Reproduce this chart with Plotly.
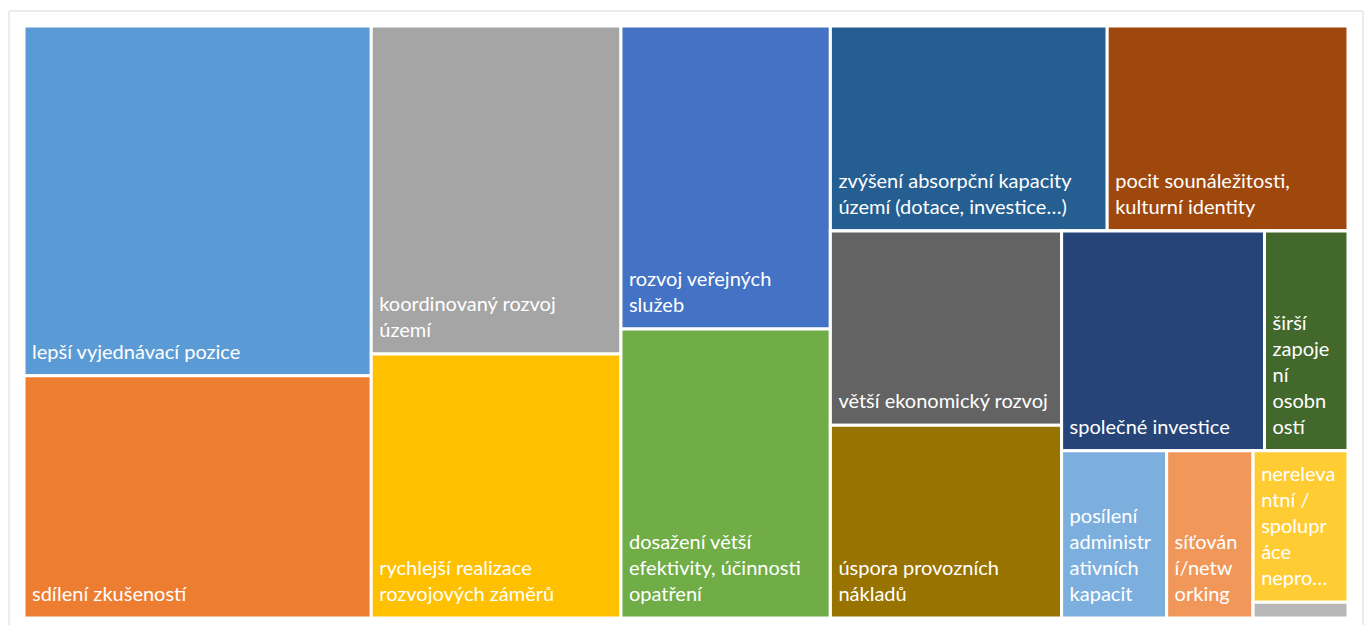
import plotly.graph_objects as go

# Benefit categories with their weights (leaf tiles)
labels = [
    "lepší vyjednávací pozice",
    "sdílení zkušeností",
    "koordinovaný rozvoj území",
    "rychlejší realizace rozvojových záměrů",
    "rozvoj veřejných služeb",
    "dosažení větší efektivity, účinnosti opatření",
    "zvýšení absorpční kapacity území (dotace, investice…)",
    "pocit sounáležitosti, kulturní identity",
    "větší ekonomický rozvoj",
    "úspora provozních nákladů",
    "společné investice",
    "širší zapojení osobností",
    "posílení administrativních kapacit",
    "síťování/networking",
    "nerelevantní / spolupráce nepro…",
    "jiné",
]
values = [121.8, 84.3, 82.1, 66.1, 63.6, 60.7, 56.9, 49.5, 45.0, 44.7, 44.7,
          18.4, 17.6, 14.5, 14.4, 1.5]

# Labels as they wrap inside their tiles
tile_lines = [
    ["lepší vyjednávací pozice"],
    ["sdílení zkušeností"],
    ["koordinovaný rozvoj", "území"],
    ["rychlejší realizace", "rozvojových záměrů"],
    ["rozvoj veřejných", "služeb"],
    ["dosažení větší", "efektivity, účinnosti", "opatření"],
    ["zvýšení absorpční kapacity", "území (dotace, investice…)"],
    ["pocit sounáležitosti,", "kulturní identity"],
    ["větší ekonomický rozvoj"],
    ["úspora provozních", "nákladů"],
    ["společné investice"],
    ["širší", "zapoje", "ní", "osobn", "ostí"],
    ["posílení", "administr", "ativních", "kapacit"],
    ["síťován", "í/netw", "orking"],
    ["nereleva", "ntní /", "spolupr", "áce", "nepro…"],
    [],
]

colors = [
    "#5B9BD5", "#ED7D31", "#A5A5A5", "#FFC000", "#4472C4", "#70AD47",
    "#255E91", "#9E480E", "#636363", "#997300", "#264478", "#43682B",
    "#7CAFDD", "#F1975A", "#FFCD33", "#B7B7B7",
]

# Nesting of the tiles: groups alternate between side-by-side and stacked
# arrangement (slice-dice packing). Each entry: (group id, parent id, members)
# where members are group ids or leaf indices, in drawing order.
groups = [
    ("root", "", ["A", "B", "C", "D"]),
    ("A", "root", [0, 1]),
    ("B", "root", [2, 3]),
    ("C", "root", [4, 5]),
    ("D", "root", ["D1", "D2"]),
    ("D1", "D", [6, 7]),
    ("D2", "D", ["D2a", "D3"]),
    ("D2a", "D2", [8, 9]),
    ("D3", "D2", ["D3a", "D4"]),
    ("D3a", "D3", [10, 11]),
    ("D4", "D3", [12, 13, "D4c"]),
    ("D4c", "D4", [14, 15]),
]

# Base font is half the label size, so two line breaks give a 26 px line
# pitch; a final short line lifts the label off the tile's bottom edge.
BASE_SIZE = 10
LABEL_SIZE = 20
PAD_LEFT = "\u2009\u2009"
BOTTOM_GAP = '<br><span style="font-size:4px">\u00a0</span>'


def tile_text(lines):
    if not lines:
        return ""
    spans = [f'<span style="font-size:{LABEL_SIZE}px">{PAD_LEFT}{ln}</span>'
             for ln in lines]
    return "<br><br>".join(spans) + BOTTOM_GAP


group_map = {g[0]: g for g in groups}
ids, names, parents, vals, texts, fills = [], [], [], [], [], []


def add_group(gid):
    _, parent, members = group_map[gid]
    ids.append(gid)
    names.append(gid)
    parents.append(parent)
    vals.append(0)
    texts.append("")
    fills.append("white")
    for m in members:
        if isinstance(m, str):
            add_group(m)
        else:
            ids.append(labels[m])
            names.append(labels[m])
            parents.append(gid)
            vals.append(values[m])
            texts.append(tile_text(tile_lines[m]))
            fills.append(colors[m])


add_group("root")

fig = go.Figure(go.Treemap(
    ids=ids,
    labels=names,
    parents=parents,
    values=vals,
    branchvalues="remainder",
    text=texts,
    texttemplate="%{text}",
    textposition="bottom left",
    textfont=dict(family="Lato", size=BASE_SIZE, color="white"),
    sort=False,
    tiling=dict(packing="slice-dice", pad=0),
    marker=dict(colors=fills, line=dict(width=3, color="white"),
                pad=dict(t=0, l=0, r=0, b=0)),
    pathbar=dict(visible=False),
    hoverinfo="label+value",
))

W, H = 1369, 625
ml, mr, mt, mb = 23.5, 20.5, 25.5, 6.5
pw, ph = W - ml - mr, H - mt - mb


def px_x(x):
    return (x - ml) / pw


def px_y(y):
    return 1 - (y - mt) / ph


# Light chart-area frame
fig.add_shape(
    type="path", xref="paper", yref="paper",
    path=(f"M {px_x(8.5)} {px_y(640)} L {px_x(8.5)} {px_y(10.5)} "
          f"L {px_x(1363.5)} {px_y(10.5)} L {px_x(1363.5)} {px_y(640)}"),
    line=dict(color="#D9D9D9", width=1),
)

fig.update_layout(
    width=W, height=H,
    margin=dict(l=ml, r=mr, t=mt, b=mb, pad=0),
    paper_bgcolor="white",
    showlegend=False,
)

fig.write_html("out.html")
